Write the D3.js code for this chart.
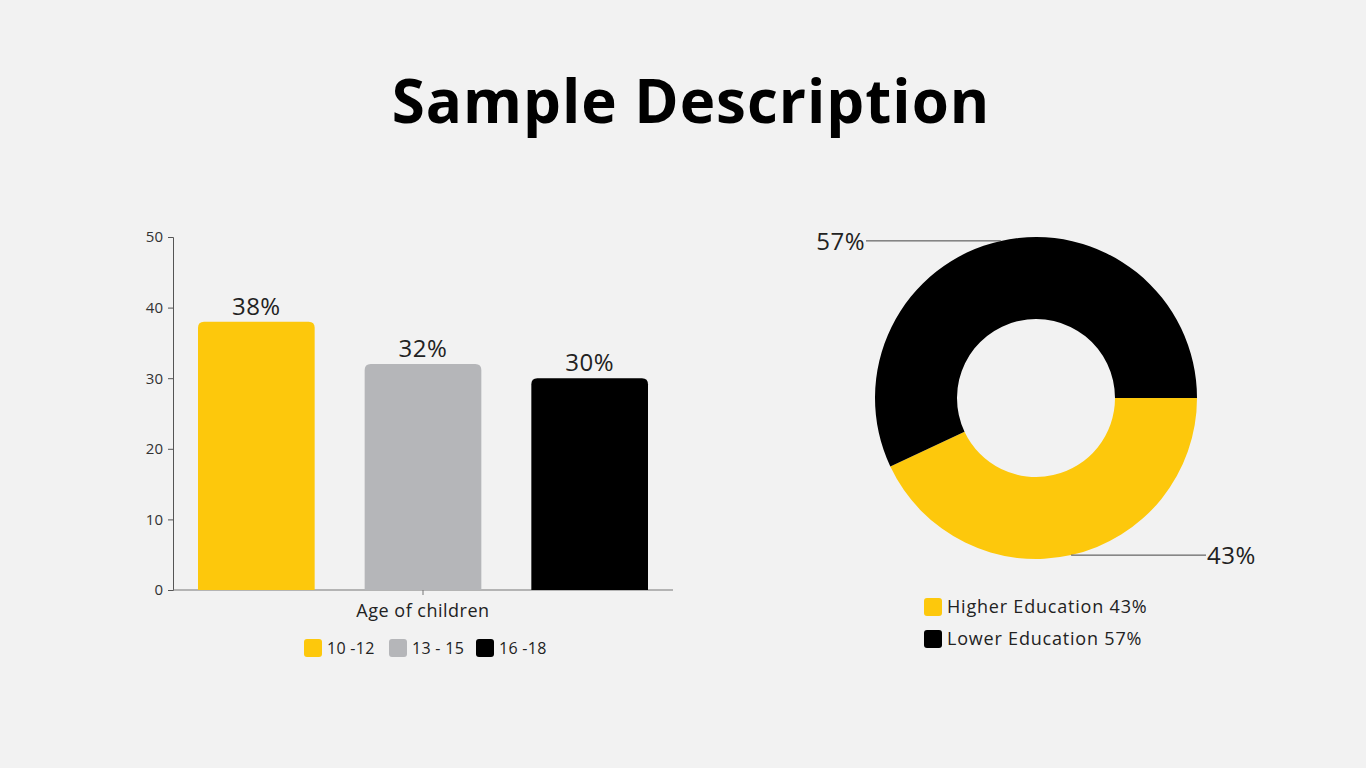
<!DOCTYPE html>
<html>
<head>
<meta charset="utf-8">
<script src="https://cdn.jsdelivr.net/npm/d3@7"></script>
<style>
  html, body { margin: 0; padding: 0; background: #f2f2f2; }
  svg { display: block; font-family: "Open Sans", "Noto Sans", sans-serif; }
</style>
</head>
<body>
<svg id="chart" width="1366" height="768"></svg>
<script>
// bar chart data
var ageGroups = ["10 -12", "13 - 15", "16 -18"];
var ageShares = [38, 32, 30];
var ageColors = ["#fdc80c", "#b5b6b9", "#000000"];
var yTicks = [0, 10, 20, 30, 40, 50];

// donut data
var eduLabels = ["Higher Education", "Lower Education"];
var eduShares = [43, 57];
var eduColors = ["#fdc80c", "#000000"];

var svg = d3.select("#chart");

svg.append("rect").attr("width", 1366).attr("height", 768).attr("fill", "#f2f2f2");

svg.append("text")
  .attr("x", 691).attr("y", 123)
  .attr("text-anchor", "middle")
  .attr("font-size", 60)
  .attr("font-weight", 700)
  .attr("letter-spacing", 1)
  .attr("fill", "#000")
  .text("Sample Description");

// ---- bar chart ----
var plotLeft = 173, plotRight = 673, plotTop = 237, plotBottom = 590;

var x = d3.scaleBand().domain(ageGroups).range([plotLeft, plotRight])
  .paddingInner(0.3).paddingOuter(0.15);
var y = d3.scaleLinear().domain([0, 50]).range([plotBottom, plotTop]);

var yAxis = svg.append("g")
  .attr("transform", "translate(" + plotLeft + ",0)")
  .call(d3.axisLeft(y).tickValues(yTicks).tickSize(5).tickPadding(5));
yAxis.select(".domain").attr("stroke", "#555");
yAxis.selectAll(".tick line").attr("stroke", "#555");
yAxis.selectAll(".tick text").attr("font-size", 15).attr("fill", "#333")
  .attr("font-family", "Open Sans, sans-serif");

// x baseline with a single centred tick
svg.append("line")
  .attr("x1", plotLeft).attr("x2", plotRight).attr("y1", plotBottom).attr("y2", plotBottom)
  .attr("stroke", "#777");
svg.append("line")
  .attr("x1", (plotLeft + plotRight) / 2).attr("x2", (plotLeft + plotRight) / 2)
  .attr("y1", plotBottom).attr("y2", plotBottom + 5)
  .attr("stroke", "#777");

var r = 6;
svg.selectAll("path.bar")
  .data(ageGroups)
  .enter()
  .append("path")
    .attr("class", "bar")
    .attr("fill", function(d, i){ return ageColors[i]; })
    .attr("d", function(d, i){
      var x0 = x(d), w = x.bandwidth(), y0 = y(ageShares[i]), y1 = y(0);
      return "M" + x0 + "," + y1 +
        "V" + (y0 + r) +
        "Q" + x0 + "," + y0 + " " + (x0 + r) + "," + y0 +
        "H" + (x0 + w - r) +
        "Q" + (x0 + w) + "," + y0 + " " + (x0 + w) + "," + (y0 + r) +
        "V" + y1 + "Z";
    });

svg.selectAll("text.barlabel")
  .data(ageGroups)
  .enter()
  .append("text")
    .attr("class", "barlabel")
    .attr("x", function(d){ return x(d) + x.bandwidth() / 2; })
    .attr("y", function(d, i){ return y(ageShares[i]) - 7; })
    .attr("text-anchor", "middle")
    .attr("font-size", 24)
    .attr("letter-spacing", 0.5)
    .attr("fill", "#222")
    .text(function(d, i){ return ageShares[i] + "%"; });

svg.append("text")
  .attr("x", (plotLeft + plotRight) / 2).attr("y", 617)
  .attr("text-anchor", "middle")
  .attr("font-size", 18)
  .attr("letter-spacing", 0.5)
  .attr("fill", "#222")
  .text("Age of children");

var legX = [304, 389, 476];
var barLegend = svg.selectAll("g.barleg")
  .data(ageGroups)
  .enter()
  .append("g")
    .attr("class", "barleg")
    .attr("transform", function(d, i){ return "translate(" + legX[i] + ",639)"; });
barLegend.append("rect")
  .attr("width", 18).attr("height", 18).attr("rx", 3)
  .attr("fill", function(d, i){ return ageColors[i]; });
barLegend.append("text")
  .attr("x", 23).attr("y", 15)
  .attr("font-size", 16)
  .attr("letter-spacing", 0.3)
  .attr("fill", "#222")
  .text(function(d){ return d; });

// ---- donut ----
var cx = 1036, cy = 398, outerR = 161, innerR = 79;

var pie = d3.pie().sort(null)
  .startAngle(Math.PI / 2).endAngle(Math.PI / 2 + 2 * Math.PI);
var arc = d3.arc().innerRadius(innerR).outerRadius(outerR);
var arcs = pie(eduShares);

var donut = svg.append("g").attr("transform", "translate(" + cx + "," + cy + ")");
donut.selectAll("path")
  .data(arcs)
  .enter()
  .append("path")
    .attr("d", arc)
    .attr("fill", function(d, i){ return eduColors[i]; });

// leader lines from slice mid-angle on the outer edge
var labelOffset = 170;
arcs.forEach(function(a, i){
  var mid = (a.startAngle + a.endAngle) / 2;
  var px = Math.sin(mid) * outerR, py = -Math.cos(mid) * outerR;
  var side = px >= 0 ? 1 : -1;
  var ex = side * labelOffset;
  donut.append("line")
    .attr("x1", px).attr("y1", py).attr("x2", ex).attr("y2", py)
    .attr("stroke", "#444").attr("stroke-width", 1);
  donut.append("text")
    .attr("x", ex + side * 1).attr("y", py + 9)
    .attr("text-anchor", side > 0 ? "start" : "end")
    .attr("font-size", 24)
    .attr("letter-spacing", 0.5)
    .attr("fill", "#222")
    .text(eduShares[i] + "%");
});

var eduLegend = svg.selectAll("g.eduleg")
  .data(eduLabels)
  .enter()
  .append("g")
    .attr("class", "eduleg")
    .attr("transform", function(d, i){ return "translate(924," + (598 + i * 32) + ")"; });
eduLegend.append("rect")
  .attr("width", 18).attr("height", 18).attr("rx", 3)
  .attr("fill", function(d, i){ return eduColors[i]; });
eduLegend.append("text")
  .attr("x", 23).attr("y", 15)
  .attr("font-size", 18)
  .attr("letter-spacing", 0.8)
  .attr("fill", "#222")
  .text(function(d, i){ return d + " " + eduShares[i] + "%"; });
</script>
</body>
</html>
